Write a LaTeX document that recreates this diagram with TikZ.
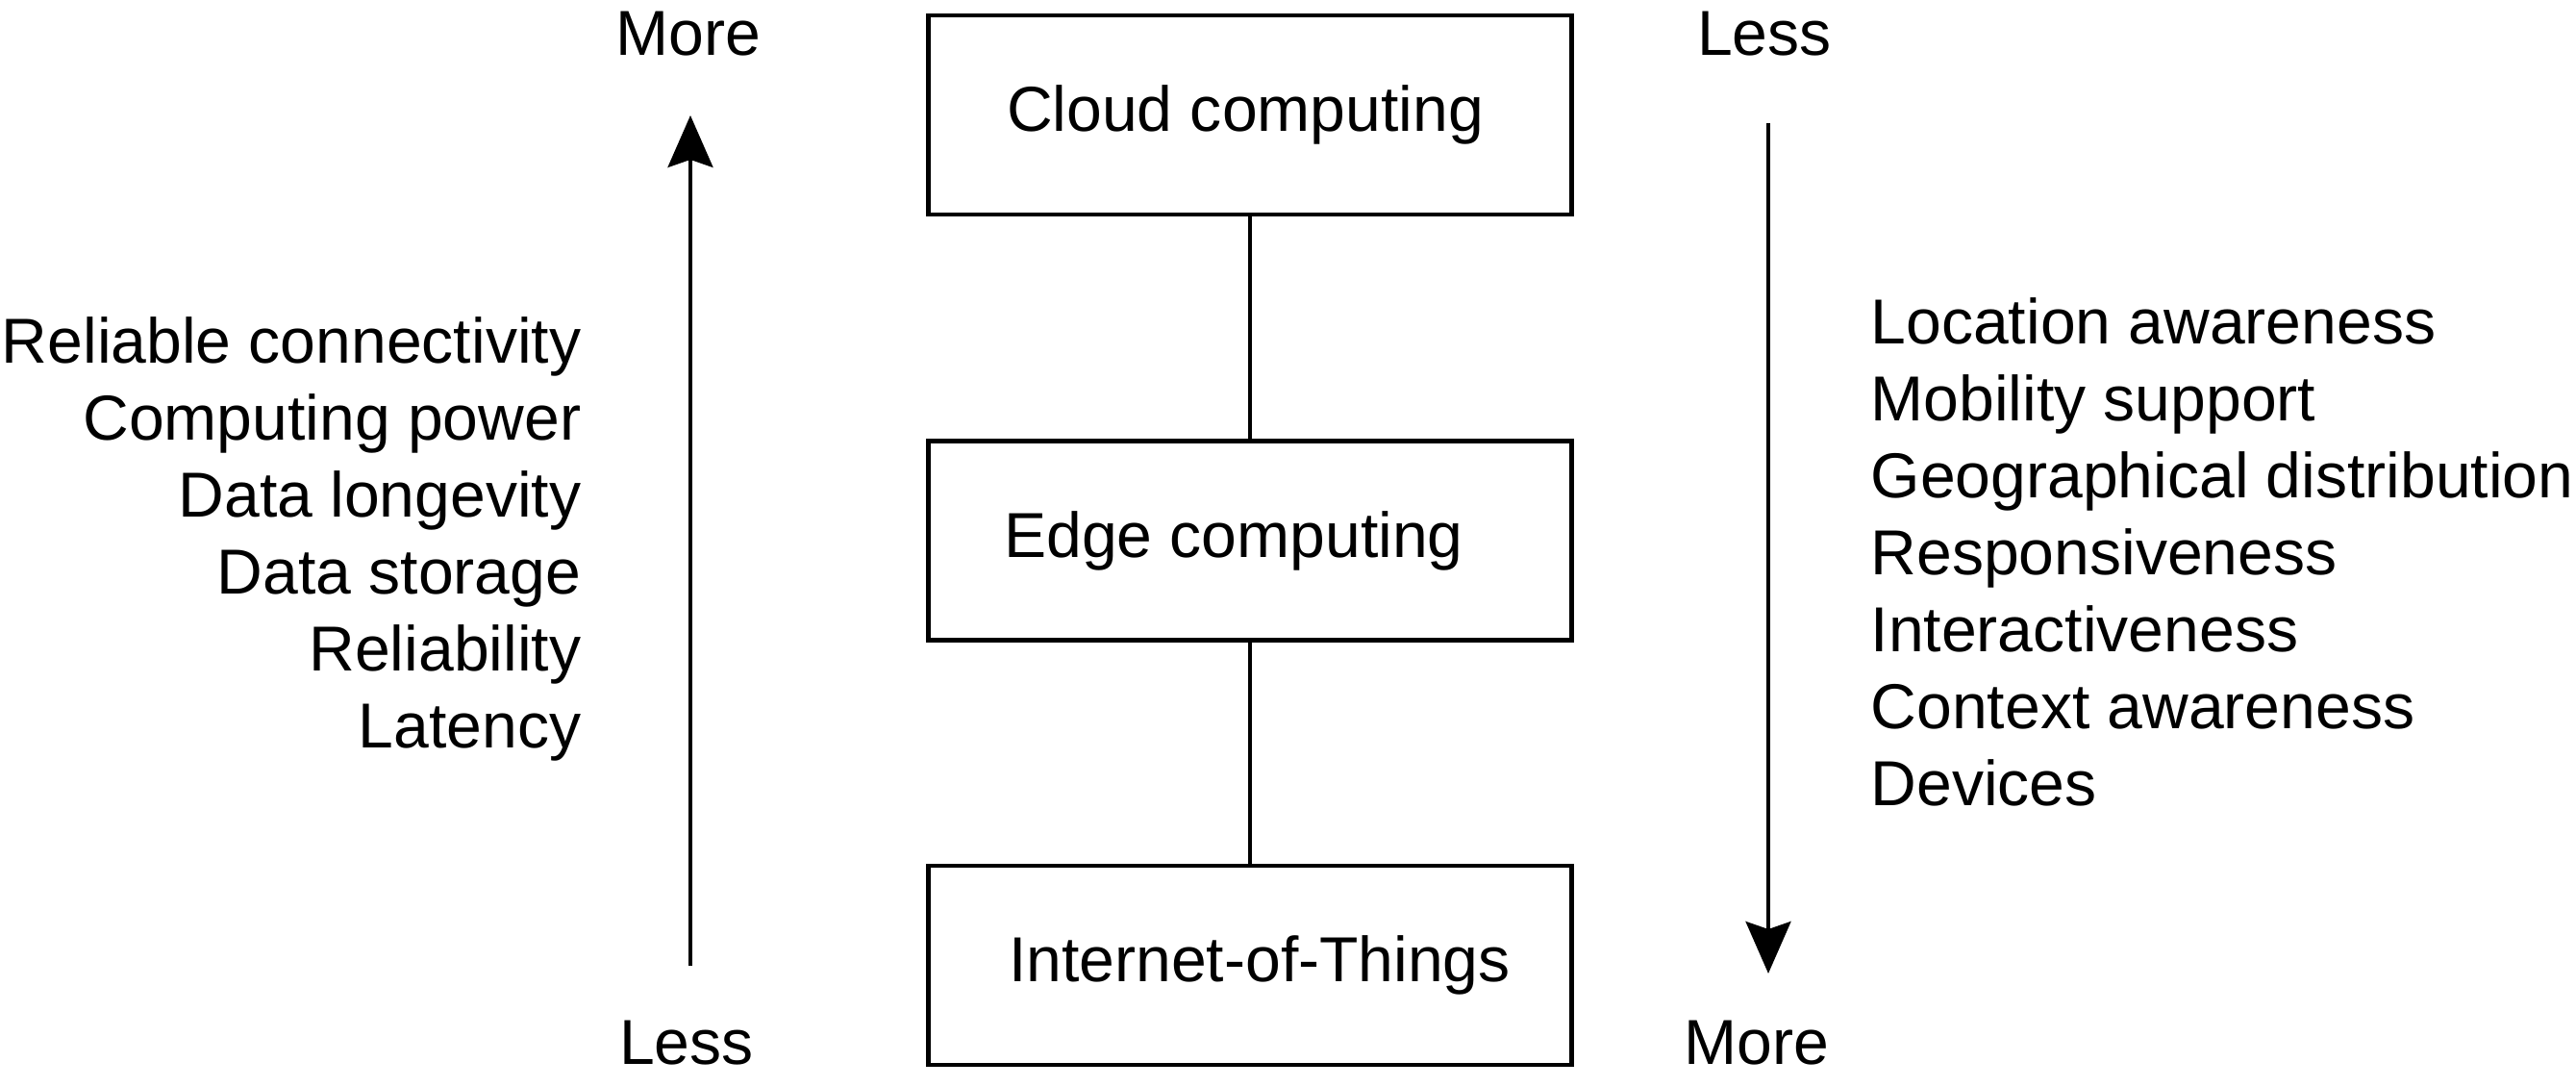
\documentclass[tikz,border=0pt]{standalone}
\usepackage{fontspec}
\setmainfont{Liberation Sans}
\usetikzlibrary{arrows.meta}

\begin{document}
\begin{tikzpicture}[>={Stealth[length=5.4mm,width=4.7mm,inset=0.8mm]},
  font=\fontsize{18.8}{22.7}\selectfont,
  layer/.style={draw,line width=0.47mm,minimum width=6.69cm,minimum height=2.07cm,inner sep=0pt},
  tag/.style={inner sep=0pt,anchor=base},
  link/.style={line width=0.36mm}]
  \useasboundingbox (0,0) rectangle (26.79,11.30);
  \node[layer] (cloud) at (13.0, 10.105) {\raisebox{-0.05cm}{\hspace*{-0.1cm}Cloud computing}};
  \node[layer] (edge)  at (13.0, 5.68)   {\raisebox{-0.09cm}{\hspace*{-0.34cm}Edge computing}};
  \node[layer] (iot)   at (13.0, 1.265)  {\raisebox{-0.07cm}{\hspace*{0.2cm}Internet-of-Things}};
  \path[link] (cloud) edge (edge);
  \path[link] (edge)  edge (iot);
  \coordinate (upfrom) at (7.18, 1.26);
  \coordinate (upto)   at (7.18, 10.10);
  \coordinate (dnfrom) at (18.39, 10.02);
  \coordinate (dnto)   at (18.39, 1.18);
  \path[link,->] (upfrom) edge (upto);
  \path[link,->] (dnfrom) edge (dnto);
  \node[tag] (moreL) at (7.16, 10.72)  {More};
  \node[tag] (lessL) at (7.14, 0.23)   {Less};
  \node[tag] (lessR) at (18.35, 10.72) {Less};
  \node[tag] (moreR) at (18.27, 0.23)  {More};
  \foreach \txt [count=\i] in {Reliable connectivity, Computing power, Data longevity,
      Data storage, Reliability, Latency}
    \node[tag,anchor=base east] (left\i) at (6.05, 8.32-0.8*\i) {\txt};
  \foreach \txt [count=\i] in {Location awareness, Mobility support, Geographical distribution,
      Responsiveness, Interactiveness, Context awareness, Devices}
    \node[tag,anchor=base west] (right\i) at (19.45, 8.52-0.8*\i) {\txt};
\end{tikzpicture}
\end{document}
